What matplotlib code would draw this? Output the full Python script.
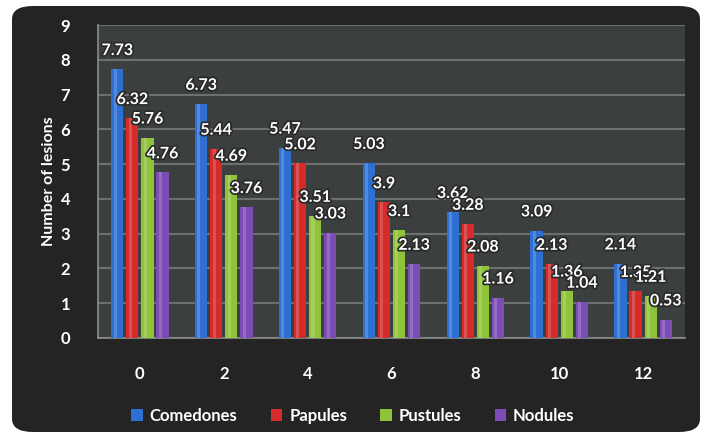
import matplotlib
matplotlib.use("Agg")
import matplotlib.pyplot as plt
import matplotlib.patheffects as pe
from matplotlib.patches import FancyBboxPatch
import numpy as np

weeks = [0, 2, 4, 6, 8, 10, 12]
comedones = [7.73, 6.73, 5.47, 5.03, 3.62, 3.09, 2.14]
papules = [6.32, 5.44, 5.02, 3.9, 3.28, 2.13, 1.35]
pustules = [5.76, 4.69, 3.51, 3.1, 2.08, 1.36, 1.21]
nodules = [4.76, 3.76, 3.03, 2.13, 1.16, 1.04, 0.53]

series = [
    ("Comedones", comedones, "#2e6fd2"),
    ("Papules", papules, "#d52b2b"),
    ("Pustules", pustules, "#8fc43a"),
    ("Nodules", nodules, "#7c4db4"),
]

plt.rcParams["font.family"] = ["Lato", "DejaVu Sans"]

fig = plt.figure(figsize=(7.06, 4.41), dpi=100)
fig.patch.set_facecolor("white")

# dark rounded panel behind the chart
panel = FancyBboxPatch((12 / 706, 9 / 441), 688 / 706, 426 / 441,
                       boxstyle="round,pad=0,rounding_size=0.03",
                       transform=fig.transFigure, facecolor="#242424",
                       edgecolor="none", zorder=-10)
fig.patches.append(panel)

ax = fig.add_axes([98 / 706, 103 / 441, 587 / 706, 313 / 441])
ax.set_zorder(1)
ax.set_facecolor("#3c3f3f")

x = np.arange(len(weeks))
width = 0.145
step = 0.18
halo = [pe.withStroke(linewidth=2.5, foreground="#2a2a2a")]

for i, (name, vals, color) in enumerate(series):
    pos = x + (i - 1.5) * step
    ax.bar(pos, vals, width=width, color=color, label=name, zorder=3)
    # soft highlight for a rounded look
    ax.bar(pos - width * 0.18, vals, width=width * 0.25, color="white",
           alpha=0.18, zorder=3.5, linewidth=0)
    for px, v in zip(pos, vals):
        ax.annotate(f"{v:g}", (px, v), xytext=(0, 8), textcoords="offset points",
                    ha="center", va="bottom", color="white", fontsize=11.5,
                    fontweight="bold", zorder=5, path_effects=halo)

ax.set_ylim(0, 9)
ax.set_xlim(-0.5, len(weeks) - 0.5)
ax.set_yticks(range(0, 10))
ax.set_xticks(x)
ax.set_xticklabels([str(w) for w in weeks])
ax.yaxis.grid(True, color="#6c7070", linewidth=1.5, zorder=1)
ax.set_axisbelow(True)
ax.tick_params(axis="both", length=0, colors="white", labelsize=12)
ax.tick_params(axis="y", pad=20)
ax.tick_params(axis="x", pad=20)
for lab in ax.get_xticklabels() + ax.get_yticklabels():
    lab.set_fontweight("bold")
for side in ["top", "right"]:
    ax.spines[side].set_visible(False)
for side in ["left", "bottom"]:
    ax.spines[side].set_color("#8a8e8e")
    ax.spines[side].set_linewidth(1.2)

ax.set_ylabel("Number of lesions", color="white", fontsize=11.5,
              fontweight="bold", labelpad=3)

leg = fig.legend(loc="center", bbox_to_anchor=(0.5, 25 / 441), ncol=4,
                 frameon=False, fontsize=12, handlelength=0.7, handleheight=0.7,
                 columnspacing=2.0, handletextpad=0.4)
for t in leg.get_texts():
    t.set_color("white")
    t.set_fontweight("bold")

fig.savefig("out.png", dpi=100, facecolor=fig.get_facecolor())
